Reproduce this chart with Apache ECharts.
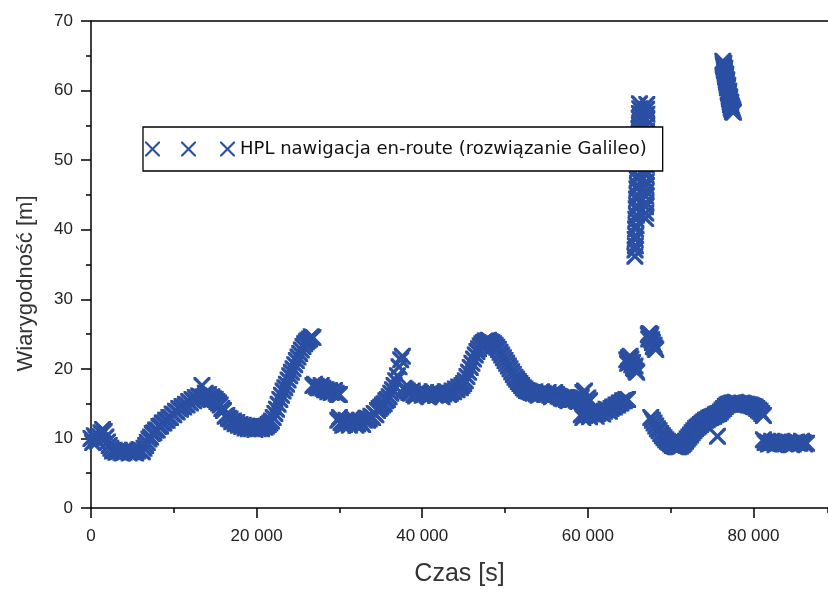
<!DOCTYPE html>
<html>
<head>
<meta charset="utf-8">
<script src="https://cdn.jsdelivr.net/npm/echarts@6/dist/echarts.min.js"></script>
<style>html,body{margin:0;padding:0;background:#fff;}#c{width:828px;height:592px;}</style>
</head>
<body>
<div id="c"></div>
<script>
// ---- labels ----
const seriesName = 'HPL nawigacja en-route (rozwiązanie Galileo)';
const xTitle = 'Czas [s]';
const yTitle = 'Wiarygodność [m]';

// ---- data: regularly sampled segments (start time [s], step [s], HPL values [m]) ----
const sampleStep = 200;

const startT = 0;
const startV = [10.0,9.4,10.4,10.0,9.6,10.3,10.8,11.3,11.0,10.2,
  9.5,9.0,8.6,8.2,8.3,8.0,8.1,8.3,8.0,7.9,
  8.0,8.3,8.2,7.9,8.1,8.3,8.0,7.9,8.2,8.4,
  8.3,8.1,8.6,9.0,9.4,9.9,10.2,10.7,10.8,11.2,
  11.2,11.7,11.8,12.2,12.2,12.6,12.6,13.0,13.0,13.5,
  13.4,13.9,13.8,14.3,14.2,14.6,14.5,14.9,14.8,15.3,
  15.1,15.6,15.4,15.9,15.6,16.1,16.0,17.6,16.0,16.5,
  16.1,16.3,15.9,16.0,15.7,15.6,15.3,15.1,14.8,14.3,
  14.0,13.2,13.3,12.9,12.8,12.4,12.5,12.1,12.3,11.9,
  12.0,11.7,11.9,11.5,11.8,11.4,11.7,11.4,11.6,11.3,
  11.6,11.4,11.6,11.4,11.7,11.6,11.8,12.0,12.2,12.5,
  13.0,13.6,14.2,14.9,15.6,16.2,16.8,17.3,17.8,18.4,
  19.0,19.5,20.0,20.6,21.2,21.7,22.2,22.7,23.2,23.6,
  23.9,24.1,24.3,24.6,24.5];

const blob17T = 26800;
const blob17V = [17.6,17.8,17.5,17.3,17.3,17.6,17.2,17.0,17.0,16.7,16.9,16.6,16.7,16.9,16.5,16.3,16.3];

const low12T = 29800;
const low12V = [12.6,13.0,12.3,11.9,12.0,12.6,12.2,11.9,12.5,12.9,
  12.3,11.9,12.1,12.6,12.3,12.0,12.6,12.9,12.6,12.8,
  13.2,13.0,13.6,13.4,14.0,14.3,14.5,14.8,15.0,15.4,
  15.6,16.0,16.5,17.0,17.6,18.3,19.0,20.3,21.3,21.8];

const midT = 37800;
const midV = [17.2,17.0,16.8,16.6,16.5,16.8,16.3,16.1,16.4,16.7,
  16.5,16.2,16.3,16.6,16.2,16.0,16.4,16.7,16.5,16.2,
  16.3,16.6,16.2,16.0,16.4,16.7,16.6,16.3,16.5,16.8,
  16.7,17.1,17.0,17.4,17.3,17.6,17.9,18.3,18.9,19.5,
  20.2,20.8,21.4,22.0,22.5,22.9,23.3,23.6,23.8,24.0,
  24.0,24.1,23.9,23.8,23.6,23.4,23.1,22.8,22.4,22.0,
  21.6,21.2,20.8,20.4,20.0,19.6,19.2,18.8,18.5,18.2,
  17.9,17.6,17.3,17.1,16.9,16.8,16.7,16.6,16.5,16.7,
  16.4,16.2,16.4,16.7,16.5,16.3,16.3,16.6,16.2,16.0,
  16.4,16.6,16.3,16.1,16.0,15.8,15.7,15.9,15.6,15.4,
  15.8,15.6,15.6,15.9,15.5,15.3,15.7,15.9,16.6,16.8,
  15.6,15.8,15.4];

const low14T = 59200;
const low14V = [13.4,13.0,13.3,13.6,13.4,13.1,13.5,13.8,13.5,13.2,
  13.6,13.9,13.7,13.5,13.9,14.2,14.1,13.9,14.3,14.5,
  14.5,14.8,14.8,15.1,15.1,15.4,15.4,15.6,15.6];

const vT = 67600;
const vV = [13.0,12.6,12.2,11.8,11.4,11.1,10.7,10.4,10.1,9.8,
  9.6,9.4,9.2,9.0,8.9,8.8,8.8,8.8,8.9,9.1,
  9.3,9.6,9.9,10.2,10.5,10.8,11.1,11.4,11.6,11.8,
  12.0,12.2,12.4,12.6,12.7,12.9,13.0,13.1,13.2,13.4,
  13.5,13.6,13.8,14.1,14.3,14.6,14.8,14.9,15.0,15.1,
  15.1,15.2,15.1,15.0,15.0,15.1,15.0,14.9,14.9,14.8,
  14.8,14.7,14.6,14.5,14.3,14.1,13.9,13.6,13.3];

const endT = 81200;
const endV = [9.8,9.4,9.5,9.2,9.3,9.6,9.4,9.1,9.3,9.5,
  9.3,9.6,9.4,9.2,9.3,9.5,9.3,9.1,9.2,9.4,
  9.5,9.3,9.3,9.6,9.4,9.2,9.3];

// ---- data: irregular groups as [time, HPL] pairs ----
const blob21 = [[64700,21.3],[64800,20.8],[64900,21.6],[65000,21.0],[65100,21.8],[65200,21.4],[65300,20.6],[65400,20.9],[65500,20.2],[65600,20.0],[65700,20.4],[65800,19.7],[65900,19.5]];
const blob24 = [[67300,24.9],[67350,24.3],[67400,25.1],[67500,24.6],[67600,24.9],[67700,24.2],[67800,23.8],[67900,23.2],[68000,23.4],[68100,23.0],[68200,22.8]];
const spikeA = [[65680,36.2],[65700,37.1],[65740,37.7],[65720,38.6],[65780,39.2],[65760,40.1],[65820,40.6],[65800,41.5],[65860,42.1],[65840,43.0],[65900,43.5],[65880,44.4],[65940,45.0],[65920,45.9],[65980,46.4],[65960,47.3],[66020,47.8],[66000,48.7],[66060,49.3],[66040,50.2],[66100,50.8],[66080,51.6],[66140,52.2],[66120,53.1],[66180,53.7],[66160,54.5],[66220,55.1],[66200,56.0],[66240,56.7],[66260,57.4],[66230,58.1]];
const spikeB = [[66980,41.6],[67000,42.4],[66960,43.3],[67020,43.9],[66990,44.8],[67040,45.5],[67010,46.3],[67060,46.9],[67030,47.8],[67080,48.4],[67050,49.3],[67090,50.1],[67060,51.0],[67100,51.7],[67070,52.6],[67110,53.4],[67080,54.1],[67120,55.0],[67090,55.8],[67130,56.6],[67100,57.3],[67120,58.0]];
const spikeC = [[76300,64.2],[76340,63.8],[76380,63.5],[76420,63.9],[76460,63.1],[76500,62.8],[76540,63.2],[76580,62.4],[76620,62.0],[76660,62.3],[76700,61.6],[76740,61.2],[76780,61.5],[76820,60.8],[76860,60.4],[76900,60.7],[76940,59.9],[76980,59.6],[77020,59.9],[77060,59.2],[77100,58.8],[77140,59.0],[77180,58.4],[77220,58.0],[77260,58.3],[77300,57.6],[77340,57.8],[77380,57.3],[77420,57.5],[77460,57.0],[77520,57.2],[77580,56.9]];
const stray = [[75650,10.3]];

const xMin = 0, xMax = 89000, xStep = 20000, xMinorStep = 10000;
const yMin = 0, yMax = 70, yStep = 10;

// ---- build ----
function seg(t0, vals) { return vals.map((v, i) => [t0 + i * sampleStep, v]); }
const allData = [].concat(
  seg(startT, startV), seg(blob17T, blob17V), seg(low12T, low12V), seg(midT, midV),
  seg(low14T, low14V), blob21, blob24, spikeA, spikeB, spikeC, seg(vT, vV), stray, seg(endT, endV)
);

function xShape(x0, y0, s, d) {
  const h = s / 2;
  const p = [[0,0],[d,0],[h,h-d],[s-d,0],[s,0],[s,d],[h+d,h],[s,s-d],[s,s],[s-d,s],[h,h+d],[d,s],[0,s],[0,s-d],[h-d,h],[0,d]];
  return 'M' + p.map(q => (x0+q[0]) + ' ' + (y0+q[1])).join(' L') + ' Z';
}
const markerPath = 'path://' + xShape(0, 0, 100, 14);
const legendIcon = 'path://' + xShape(0, 0, 15, 1.5) + ' ' + xShape(36, 0, 15, 1.5) + ' ' + xShape(75, 0, 15, 1.5);
const blue = '#2a4fa3';
const fmt = v => String(v).replace(/\B(?=(\d{3})+(?!\d))/g, ' ');
const labelFont = {fontFamily: 'Liberation Sans, Arial, sans-serif', fontSize: 17, color: '#222'};
const axisLine = {show: true, lineStyle: {color: '#000', width: 1.5}};

const chart = echarts.init(document.getElementById('c'), null, {renderer: 'canvas'});
chart.setOption({
  animation: false,
  backgroundColor: '#fff',
  grid: {left: 91, right: 0, top: 21, height: 488, containLabel: false},
  legend: {
    left: 143, top: 127,
    backgroundColor: '#fff', borderColor: '#000', borderWidth: 1.3, borderRadius: 0,
    padding: [13, 16, 13, 2],
    itemWidth: 90, itemHeight: 15,
    textStyle: {fontFamily: 'DejaVu Sans', fontSize: 18, color: '#111'},
    data: [{name: seriesName, icon: legendIcon}]
  },
  xAxis: [
    {
      type: 'value', min: xMin, max: xMax, interval: xStep, position: 'bottom',
      axisLine: axisLine,
      axisTick: {show: true, inside: false, length: 10, lineStyle: {color: '#000', width: 1.5}},
      axisLabel: Object.assign({margin: 20, formatter: fmt, showMaxLabel: false}, labelFont),
      splitLine: {show: false},
      name: xTitle, nameLocation: 'middle', nameGap: 54,
      nameTextStyle: {fontFamily: 'Liberation Sans, Arial, sans-serif', fontSize: 25, color: '#333'}
    },
    {
      type: 'value', min: xMin, max: xMax, interval: xMinorStep, position: 'bottom',
      axisLine: {show: false},
      axisTick: {show: true, inside: false, length: 5, lineStyle: {color: '#000', width: 1.5}},
      axisLabel: {show: false}, splitLine: {show: false}
    },
    {
      type: 'value', min: xMin, max: xMax, interval: xStep, position: 'top',
      axisLine: axisLine, axisTick: {show: false}, axisLabel: {show: false}, splitLine: {show: false}
    }
  ],
  yAxis: [{
    type: 'value', min: yMin, max: yMax, interval: yStep, position: 'left',
    axisLine: axisLine,
    axisTick: {show: true, inside: false, length: 10, lineStyle: {color: '#000', width: 1.5}},
    minorTick: {show: true, splitNumber: 2, length: 5, lineStyle: {color: '#000', width: 1.5}},
    axisLabel: Object.assign({margin: 18}, labelFont),
    splitLine: {show: false}, minorSplitLine: {show: false},
    name: yTitle, nameLocation: 'middle', nameGap: 54, nameRotate: 90,
    nameTextStyle: {fontFamily: 'Liberation Sans, Arial, sans-serif', fontSize: 22, color: '#333', padding: [0, 38, 0, 0]}
  }],
  series: [{
    type: 'scatter', name: seriesName, xAxisIndex: 0, yAxisIndex: 0,
    symbol: markerPath, symbolSize: 17,
    itemStyle: {color: blue, opacity: 1},
    emphasis: {disabled: true},
    data: allData
  }]
});
</script>
</body>
</html>
